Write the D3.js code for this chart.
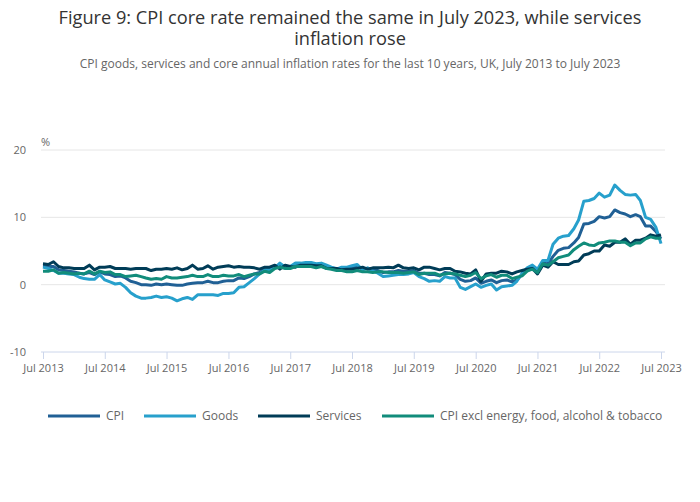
<!DOCTYPE html>
<html>
<head>
<meta charset="utf-8">
<script src="https://cdn.jsdelivr.net/npm/d3@7"></script>
<style>
  body { margin: 0; background: #fff; font-family: "Open Sans", sans-serif; }
  svg text { font-family: "Open Sans", sans-serif; }
</style>
</head>
<body>
<div id="chart"></div>
<script>
const seriesNames = ["CPI", "Goods", "Services", "CPI excl energy, food, alcohol & tobacco"];
const seriesColors = ["#206095", "#27a0cc", "#003c57", "#118c7b"];

// monthly annual rates, Jul 2013 to Jul 2023
const cpi = [
  2.8, 2.7, 2.7, 2.2, 2.1, 2.0,
  1.9, 1.7, 1.6, 1.8, 1.5, 1.9, 1.6, 1.5, 1.2, 1.3, 1.0, 0.5,
  0.3, 0.0, 0.0, -0.1, 0.1, 0.0, 0.1, 0.0, -0.1, -0.1, 0.1, 0.2,
  0.3, 0.3, 0.5, 0.3, 0.3, 0.5, 0.6, 0.6, 1.0, 0.9, 1.2, 1.6,
  1.8, 2.3, 2.3, 2.7, 2.9, 2.6, 2.6, 2.9, 3.0, 3.0, 3.1, 3.0,
  3.0, 2.7, 2.5, 2.4, 2.4, 2.4, 2.5, 2.7, 2.4, 2.4, 2.3, 2.1,
  1.8, 1.9, 1.9, 2.1, 2.0, 2.0, 2.1, 1.7, 1.7, 1.5, 1.5, 1.3,
  1.8, 1.7, 1.5, 0.8, 0.5, 0.6, 1.0, 0.2, 0.5, 0.7, 0.3, 0.6,
  0.7, 0.4, 0.7, 1.5, 2.1, 2.5, 2.0, 3.2, 3.1, 4.2, 5.1, 5.4,
  5.5, 6.2, 7.0, 9.0, 9.1, 9.4, 10.1, 9.9, 10.1, 11.1, 10.7, 10.5,
  10.1, 10.4, 10.1, 8.7, 8.7, 7.9, 6.8
];
const goods = [
  2.6, 2.4, 2.1, 1.7, 1.7, 1.6,
  1.5, 1.1, 0.9, 0.8, 0.8, 1.5, 0.7, 0.4, 0.1, 0.2, -0.4, -1.2,
  -1.7, -2.0, -2.0, -1.9, -1.7, -1.9, -1.8, -2.0, -2.4, -2.1, -1.9, -2.2,
  -1.5, -1.5, -1.5, -1.5, -1.6, -1.3, -1.3, -1.2, -0.4, -0.3, 0.3, 0.9,
  1.6, 2.2, 2.2, 2.5, 3.2, 2.6, 2.7, 3.2, 3.2, 3.3, 3.3, 3.1,
  3.2, 2.9, 2.6, 2.3, 2.6, 2.6, 2.8, 3.0, 2.2, 2.5, 2.0, 1.7,
  1.2, 1.3, 1.4, 1.5, 1.5, 1.6, 1.8, 1.2, 0.9, 0.5, 0.6, 0.5,
  1.2, 1.0, 1.0, -0.4, -0.7, -0.3, 0.1, -0.4, -0.1, 0.1, -0.8, -0.3,
  -0.2, -0.1, 0.5, 1.7, 2.5, 2.9, 2.3, 3.6, 3.6, 6.0, 6.9, 7.2,
  7.3, 8.3, 9.6, 12.4, 12.5, 12.8, 13.6, 13.0, 13.3, 14.8, 14.0, 13.4,
  13.3, 13.4, 12.5, 10.0, 9.7, 8.5, 6.1
];
const services = [
  3.1, 3.0, 3.4, 2.7, 2.5, 2.5,
  2.4, 2.4, 2.4, 2.9, 2.2, 2.6, 2.6, 2.7, 2.4, 2.4, 2.4, 2.3,
  2.4, 2.4, 2.4, 2.1, 2.3, 2.3, 2.4, 2.3, 2.5, 2.2, 2.4, 2.9,
  2.3, 2.4, 2.8, 2.3, 2.6, 2.7, 2.8, 2.6, 2.7, 2.6, 2.6, 2.5,
  2.3, 2.6, 2.6, 2.9, 2.3, 2.9, 2.7, 2.6, 2.9, 2.9, 2.9, 2.8,
  2.8, 2.4, 2.4, 2.4, 2.2, 2.3, 2.3, 2.4, 2.6, 2.3, 2.5, 2.5,
  2.5, 2.6, 2.5, 2.9, 2.5, 2.4, 2.5, 2.2, 2.6, 2.6, 2.4, 2.2,
  2.4, 2.4, 2.0, 1.9, 1.7, 1.6, 2.2, 0.5, 1.6, 1.7, 1.7, 2.0,
  1.9, 1.6, 1.9, 2.1, 2.3, 2.4, 1.6, 2.9, 2.6, 3.4, 3.0, 3.0,
  3.0, 3.4, 3.5, 4.4, 4.6, 5.0, 5.0, 5.9, 5.7, 6.3, 6.3, 6.8,
  6.0, 6.6, 6.6, 6.9, 7.4, 7.2, 7.4
];
const core = [
  2.0, 2.0, 2.2, 1.7, 1.8, 1.7,
  1.6, 1.7, 1.6, 2.0, 1.6, 2.0, 1.8, 1.9, 1.5, 1.5, 1.2, 1.3,
  1.4, 1.2, 1.0, 0.8, 0.9, 0.8, 1.2, 1.0, 1.0, 1.1, 1.2, 1.4,
  1.2, 1.2, 1.5, 1.2, 1.2, 1.4, 1.3, 1.3, 1.5, 1.2, 1.4, 1.6,
  1.6, 2.0, 1.8, 2.4, 2.6, 2.4, 2.4, 2.7, 2.7, 2.7, 2.7, 2.5,
  2.7, 2.4, 2.3, 2.1, 2.1, 1.9, 1.9, 2.1, 1.9, 1.9, 1.8, 1.9,
  1.9, 1.8, 1.8, 1.8, 1.7, 1.8, 1.9, 1.5, 1.7, 1.7, 1.7, 1.4,
  1.6, 1.7, 1.6, 1.4, 1.2, 1.4, 1.8, 0.9, 1.3, 1.5, 1.1, 1.4,
  1.4, 0.9, 1.1, 1.3, 2.0, 2.3, 1.8, 3.1, 2.9, 3.4, 4.0, 4.2,
  4.4, 5.2, 5.7, 6.2, 5.9, 5.8, 6.2, 6.3, 6.5, 6.5, 6.3, 6.3,
  5.8, 6.2, 6.2, 6.8, 7.1, 6.9, 6.9
];
const yTicks = [-10, 0, 10, 20];
const xTickYears = [2013, 2014, 2015, 2016, 2017, 2018, 2019, 2020, 2021, 2022, 2023];

const width = 700, height = 502;
const svg = d3.select("#chart").append("svg").attr("width", width).attr("height", height);

const months = d3.range(cpi.length).map(i => new Date(2013, 6 + i, 1));
const x = d3.scaleTime().domain([months[0], months[months.length - 1]]).range([43, 661]);
const y = d3.scaleLinear().domain([-10, 20]).range([352, 150]);

// titles
svg.append("text").attr("x", 350).attr("y", 24).attr("text-anchor", "middle")
  .attr("fill", "#333").style("font-size", "18.2px")
  .text("Figure 9: CPI core rate remained the same in July 2023, while services");
svg.append("text").attr("x", 350).attr("y", 45).attr("text-anchor", "middle")
  .attr("fill", "#333").style("font-size", "18.2px")
  .text("inflation rose");
svg.append("text").attr("x", 350).attr("y", 68).attr("text-anchor", "middle")
  .attr("fill", "#666").style("font-size", "12px")
  .text("CPI goods, services and core annual inflation rates for the last 10 years, UK, July 2013 to July 2023");

// grid
svg.append("g").selectAll("line").data(yTicks.filter(d => d !== -10)).join("line")
  .attr("x1", 41).attr("x2", 665)
  .attr("y1", d => y(d)).attr("y2", d => y(d))
  .attr("stroke", "#e6e6e6");

svg.append("g").selectAll("text").data(yTicks).join("text")
  .attr("x", 26).attr("y", d => y(d) + 4).attr("text-anchor", "end")
  .attr("fill", "#666").style("font-size", "11px")
  .text(d => d);
svg.append("text").attr("x", 41).attr("y", 146).attr("fill", "#666").style("font-size", "11px").text("%");

// x axis
const xAxis = svg.append("g").attr("transform", `translate(0,${y(-10)})`)
  .call(d3.axisBottom(x).tickValues(xTickYears.map(yr => new Date(yr, 6, 1)))
    .tickFormat(d => "Jul " + d.getFullYear()).tickSize(7).tickPadding(5));
xAxis.select(".domain").attr("stroke", "#ccd6eb").attr("d", "M41,0H665");
xAxis.selectAll(".tick line").attr("stroke", "#ccd6eb");
xAxis.selectAll(".tick text").attr("fill", "#666").style("font-size", "11px").style("font-family", "Open Sans, sans-serif");

// lines
const allSeries = [cpi, goods, services, core];
const line = d3.line().x((d, i) => x(months[i])).y(d => y(d));
svg.append("g").selectAll("path").data(allSeries).join("path")
  .attr("d", line)
  .attr("fill", "none")
  .attr("stroke", (d, i) => seriesColors[i])
  .attr("stroke-width", 3)
  .attr("stroke-linejoin", "round");

// legend
const legendX = [48, 144, 258, 382];
const legend = svg.append("g").selectAll("g").data(seriesNames).join("g")
  .attr("transform", (d, i) => `translate(${legendX[i]},416)`);
legend.append("line").attr("x1", 0).attr("x2", 52).attr("y1", 0).attr("y2", 0)
  .attr("stroke", (d, i) => seriesColors[i]).attr("stroke-width", 3);
legend.append("text").attr("x", 58).attr("y", 4).attr("fill", "#666").style("font-size", "12px").text(d => d);
</script>
</body>
</html>
